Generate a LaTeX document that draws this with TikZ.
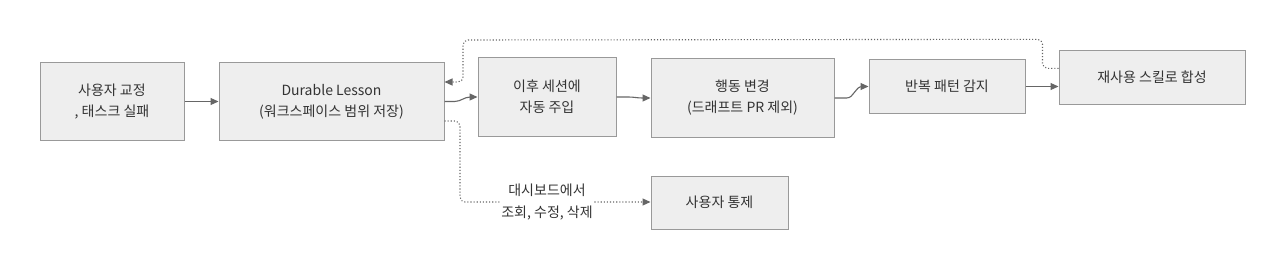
\documentclass[tikz,border=0pt]{standalone}
\usepackage{fontspec}
\setmainfont{Noto Sans CJK KR}
\usetikzlibrary{arrows.meta,calc}
\definecolor{boxfill}{HTML}{EEEEEE}
\definecolor{boxline}{HTML}{999999}
\definecolor{edgecol}{HTML}{666666}
\definecolor{txt}{HTML}{333333}
\tikzset{
  box/.style={draw=boxline, line width=1pt, fill=boxfill, text=txt, align=center,
    inner sep=0pt, font=\fontsize{14}{21}\selectfont},
  flow/.style={draw=edgecol, line width=1.1pt, -{Triangle[length=8pt,width=7pt]}},
  dflow/.style={flow, dotted, rounded corners=5pt},
  lbl/.style={fill=white, text=txt, align=center, inner sep=1pt, font=\fontsize{14}{22}\selectfont}
}
\begin{document}
\begin{tikzpicture}[x=1pt,y=-1pt]
\useasboundingbox[fill=white] (0,0) rectangle (1285,270);
\node[box, minimum width=144pt, minimum height=77pt] (A) at (112,101.5) {사용자 교정\\, 태스크 실패};
\node[box, minimum width=225pt, minimum height=77pt] (B) at (331.5,101.5) {Durable Lesson\\(워크스페이스 범위 저장)};
\node[box, minimum width=138pt, minimum height=78pt] (C) at (547,97) {이후 세션에\\자동 주입};
\node[box, minimum width=183pt, minimum height=78pt] (D) at (742.5,98) {행동 변경\\(드래프트 PR 제외)};
\node[box, minimum width=156pt, minimum height=53pt] (E) at (947,86.5) {반복 패턴 감지};
\node[box, minimum width=186pt, minimum height=53pt] (F) at (1152,77.5) {재사용 스킬로 합성};
\node[box, minimum width=137pt, minimum height=53pt] (G) at (719.5,202.5) {사용자 통제};

\draw[flow] (A.east) -- (B.west);
\draw[flow] (B.east) -- ++(10,0) to[out=0,in=180] ++(16,-4.5) -- (C.west);
\draw[flow] (C.east) -- ++(12,0) to[out=0,in=180] ++(14,1) -- (D.west);
\draw[flow] (D.east) -- ++(12,0) to[out=0,in=180] ++(16,-11.5) -- (E.west);
\draw[flow] (E.east) -- (E.east -| F.west);
\coordinate (fs) at ($(F.north west)!0.33!(F.south west)$);
\coordinate (be) at ($(B.north east)!0.25!(B.south east)$);
\draw[dflow] (fs) -- ++(-16,0) -- ++(0,-29) -- (463,40) -- (463,0 |- be) -- (be);
\coordinate (bs) at ($(B.north east)!0.75!(B.south east)$);
\draw[dflow] (bs) -- (460,0 |- bs) -- (460,202) -- (G.west |- 0,202);
\node[lbl] (L) at (547,202) {대시보드에서\\조회, 수정, 삭제};
\end{tikzpicture}
\end{document}
